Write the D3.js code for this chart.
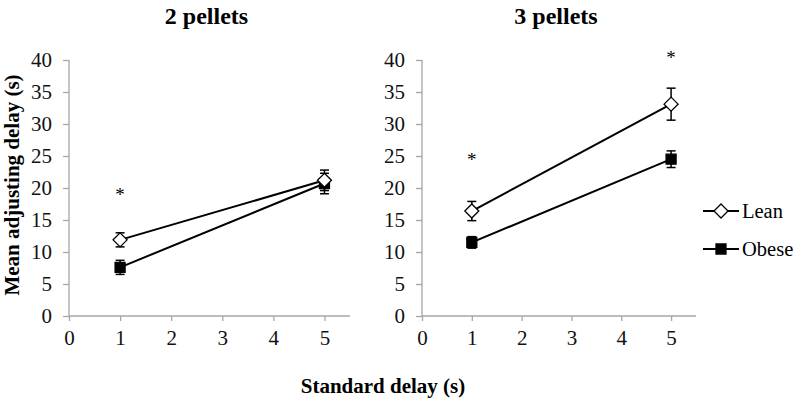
<!DOCTYPE html>
<html>
<head>
<meta charset="utf-8">
<script src="https://cdn.jsdelivr.net/npm/d3@7"></script>
<style>
  body { margin: 0; background: #fff; }
  svg text { font-family: "Liberation Serif", "Times New Roman", serif; }
</style>
</head>
<body>
<script>
// data
const panels = ["2 pellets", "3 pellets"];
const delays = [1, 5];
const leanMeans  = [[11.9, 21.2], [16.4, 33.1]];
const leanErr    = [[1.1, 1.6], [1.5, 2.5]];
const obeseMeans = [[7.6, 20.7], [11.5, 24.5]];
const obeseErr   = [[1.1, 1.6], [0.9, 1.3]];
const stars = [[{x: 1, y: 19.6}], [{x: 1, y: 25.0}, {x: 5, y: 41.0}]];
const xTicks = [0, 1, 2, 3, 4, 5];
const yTicks = [0, 5, 10, 15, 20, 25, 30, 35, 40];

function main(){
    const serif = "Liberation Serif";
    const svg = d3.select("body").append("svg")
        .attr("width", 800)
        .attr("height", 402)
        .attr("font-family", serif);

    const axisColor = "#a6a6a6";
    const xRanges = [[69, 350], [422, 696]];
    const yScale = d3.scaleLinear().domain([0, 40]).range([316, 60]);

    panels.forEach(function(title, p){
        const xScale = d3.scaleLinear().domain([0, 5.5]).range(xRanges[p]);
        const g = svg.append("g");

        // title
        g.append("text")
            .attr("x", (xRanges[p][0] + xRanges[p][1]) / 2 - 3)
            .attr("y", 24)
            .attr("text-anchor", "middle")
            .attr("font-family", serif)
            .attr("font-size", "24px")
            .attr("font-weight", "bold")
            .text(title);

        // axes
        const yAxis = g.append("g")
            .attr("transform", "translate(" + xRanges[p][0] + ",0)")
            .call(d3.axisLeft(yScale).tickValues(yTicks).tickSize(6).tickPadding(11));
        const xAxis = g.append("g")
            .attr("transform", "translate(0," + yScale(0) + ")")
            .call(d3.axisBottom(xScale).tickValues(xTicks).tickFormat(d3.format("d")).tickSize(5).tickPadding(9));
        [xAxis, yAxis].forEach(function(a){
            a.attr("font-family", serif).attr("font-size", null);
            a.select(".domain").attr("stroke", axisColor).attr("stroke-width", 1.3);
            a.selectAll(".tick line").attr("stroke", axisColor).attr("stroke-width", 1.3);
            a.selectAll(".tick text")
                .attr("fill", "#111")
                .attr("font-family", serif)
                .attr("font-size", "21px");
        });
        yAxis.select(".domain").attr("d", "M0," + yScale(0) + "V" + yScale(40));
        xAxis.select(".domain").attr("d", "M" + xRanges[p][0] + ",0H" + xRanges[p][1]);

        const series = [
            {means: obeseMeans[p], err: obeseErr[p], shape: "square"},
            {means: leanMeans[p], err: leanErr[p], shape: "diamond"}
        ];

        series.forEach(function(s){
            const pts = delays.map(function(d, i){ return {x: d, y: s.means[i], e: s.err[i]}; });

            g.append("path")
                .datum(pts)
                .attr("fill", "none")
                .attr("stroke", "#000")
                .attr("stroke-width", 2)
                .attr("d", d3.line().x(d => xScale(d.x)).y(d => yScale(d.y)));

            // error bars
            const eb = g.selectAll(null).data(pts).enter().append("g");
            eb.append("line")
                .attr("x1", d => xScale(d.x)).attr("x2", d => xScale(d.x))
                .attr("y1", d => yScale(d.y - d.e)).attr("y2", d => yScale(d.y + d.e))
                .attr("stroke", "#000").attr("stroke-width", 1.5);
            [-1, 1].forEach(function(sign){
                eb.append("line")
                    .attr("x1", d => xScale(d.x) - 4.5).attr("x2", d => xScale(d.x) + 4.5)
                    .attr("y1", d => yScale(d.y + sign * d.e)).attr("y2", d => yScale(d.y + sign * d.e))
                    .attr("stroke", "#000").attr("stroke-width", 1.5);
            });

            // markers
            g.selectAll(null).data(pts).enter().append("path")
                .attr("transform", d => "translate(" + xScale(d.x) + "," + yScale(d.y) + ")")
                .attr("d", s.shape == "square" ? "M-5,-5H5V5H-5Z" : "M0,-7L7,0L0,7L-7,0Z")
                .attr("fill", s.shape == "square" ? "#000" : "#fff")
                .attr("stroke", "#000")
                .attr("stroke-width", 1.3);
        });

        // significance markers
        g.selectAll(null).data(stars[p]).enter().append("text")
            .attr("x", d => xScale(d.x))
            .attr("y", d => yScale(d.y) + 10)
            .attr("text-anchor", "middle")
            .attr("font-family", serif)
            .attr("font-size", "19px")
            .text("*");
    });

    // shared axis labels
    svg.append("text")
        .attr("transform", "translate(19,185) rotate(-90)")
        .attr("text-anchor", "middle")
        .attr("font-family", serif)
        .attr("font-size", "21px")
        .attr("font-weight", "bold")
        .text("Mean adjusting delay (s)");

    svg.append("text")
        .attr("x", 383)
        .attr("y", 393)
        .attr("text-anchor", "middle")
        .attr("font-family", serif)
        .attr("font-size", "21px")
        .attr("font-weight", "bold")
        .text("Standard delay (s)");

    // legend
    const legend = [{name: "Lean", shape: "diamond"}, {name: "Obese", shape: "square"}];
    legend.forEach(function(l, i){
        const y = 211 + i * 38;
        svg.append("line")
            .attr("x1", 703).attr("x2", 739).attr("y1", y).attr("y2", y)
            .attr("stroke", "#000").attr("stroke-width", 2);
        svg.append("path")
            .attr("transform", "translate(721," + y + ")")
            .attr("d", l.shape == "square" ? "M-5,-5H5V5H-5Z" : "M0,-7L7,0L0,7L-7,0Z")
            .attr("fill", l.shape == "square" ? "#000" : "#fff")
            .attr("stroke", "#000").attr("stroke-width", 1.3);
        svg.append("text")
            .attr("x", 742).attr("y", y + 7)
            .attr("font-family", serif)
            .attr("font-size", "20.5px")
            .text(l.name);
    });
}
main();
</script>
</body>
</html>
